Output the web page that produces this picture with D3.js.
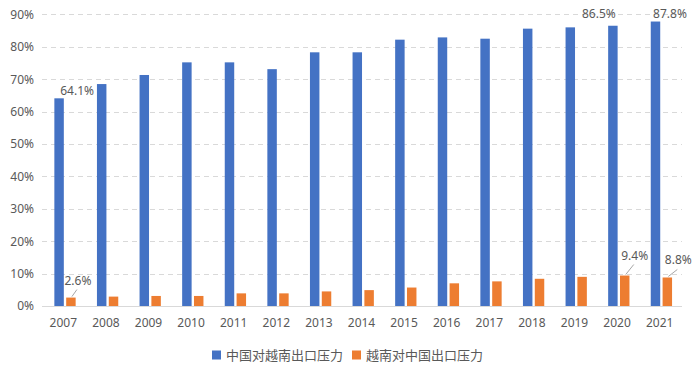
<!DOCTYPE html>
<html lang="zh">
<head>
<meta charset="UTF-8">
<title>出口压力</title>
<script src="https://d3js.org/d3.v7.min.js"></script>
<style>
  body { margin: 0; background: #fff; }
  text { font-family: "Noto Sans", "Noto Sans CJK SC", sans-serif; fill: #595959; }
</style>
</head>
<body>
<script>
const years = ["2007","2008","2009","2010","2011","2012","2013","2014","2015","2016","2017","2018","2019","2020","2021"];
const chinaToVietnam = [64.1, 68.5, 71.3, 75.2, 75.2, 73.1, 78.3, 78.3, 82.2, 82.9, 82.5, 85.6, 86.0, 86.5, 87.8];
const vietnamToChina = [2.6, 2.9, 3.1, 3.1, 3.9, 3.9, 4.5, 4.9, 5.7, 7.0, 7.6, 8.4, 9.0, 9.4, 8.8];
const seriesNames = ["中国对越南出口压力", "越南对中国出口压力"];
const yTicks = [0, 10, 20, 30, 40, 50, 60, 70, 80, 90];
// which points carry a value label
const labelled = [
  { s: 0, year: "2007" }, { s: 0, year: "2020" }, { s: 0, year: "2021" },
  { s: 1, year: "2007" }, { s: 1, year: "2020" }, { s: 1, year: "2021" }
];

const w = 700, h = 372;
const colors = ["#4472C4", "#ED7D31"];
const values = [chinaToVietnam, vietnamToChina];

const svg = d3.select("body").append("svg")
  .attr("width", w).attr("height", h);

const x0 = d3.scaleBand().domain(years).range([42, 681]);
const bw = x0.bandwidth();
const x1 = d3.scaleBand().domain([0, 1]).range([bw * 0.29, bw * 0.79]).paddingInner(0.2);
const y = d3.scaleLinear().domain([0, 90]).range([306, 14.4]);

// grid
svg.append("g").selectAll("line")
  .data(yTicks.filter(d => d > 0))
  .join("line")
  .attr("x1", 42).attr("x2", 682)
  .attr("y1", d => Math.round(y(d)) + 0.5).attr("y2", d => Math.round(y(d)) + 0.5)
  .attr("stroke", "#d9d9d9").attr("stroke-dasharray", "5,4");

// y axis labels
const yAxis = d3.axisLeft(y).tickValues(yTicks).tickFormat(d => d + "%").tickSize(0).tickPadding(8);
svg.append("g")
  .attr("transform", "translate(42,0)")
  .call(yAxis)
  .call(g => g.select(".domain").remove())
  .call(g => g.selectAll("text").attr("font-size", 12).style("fill", "#595959"));

// bars
values.forEach((vals, s) => {
  svg.append("g").selectAll("rect")
    .data(years.map((yr, i) => ({ yr, v: vals[i] })))
    .join("rect")
    .attr("x", d => x0(d.yr) + x1(s))
    .attr("width", x1.bandwidth())
    .attr("y", d => y(d.v))
    .attr("height", d => y(0) - y(d.v))
    .attr("fill", colors[s]);
});

// baseline
svg.append("line")
  .attr("x1", 42).attr("x2", 682)
  .attr("y1", y(0) + 0.5).attr("y2", y(0) + 0.5)
  .attr("stroke", "#d9d9d9");

// x axis
const xAxis = d3.axisBottom(x0).tickSize(0).tickPadding(12);
svg.append("g")
  .attr("transform", "translate(0," + y(0) + ")")
  .call(xAxis)
  .call(g => g.select(".domain").remove())
  .call(g => g.selectAll("text").attr("font-size", 12).style("fill", "#595959"));

// value labels (offsets relative to bar top centre)
const offsets = {
  "0-2007": [18, -3, false], "0-2020": [-14, -8, false], "0-2021": [14.5, -4, false],
  "1-2007": [7, -13, true], "1-2020": [10, -16, true], "1-2021": [11, -13, true]
};
labelled.forEach(l => {
  const i = years.indexOf(l.year);
  const v = values[l.s][i];
  const cx = x0(l.year) + x1(l.s) + x1.bandwidth() / 2;
  const top = y(v);
  const [dx, dy, leader] = offsets[l.s + "-" + l.year];
  if (leader) {
    svg.append("line")
      .attr("x1", cx + 1).attr("y1", top - 1)
      .attr("x2", cx + dx - 1).attr("y2", top + dy + 5)
      .attr("stroke", "#a6a6a6").attr("stroke-width", 1);
  }
  svg.append("text")
    .attr("x", cx + dx).attr("y", top + dy)
    .attr("text-anchor", "middle")
    .attr("font-size", 12)
    .text(v.toFixed(1) + "%");
});

// legend
const legend = svg.append("g").attr("transform", "translate(212,355)");
const legendX = [0, 140];
seriesNames.forEach((name, s) => {
  const g = legend.append("g").attr("transform", "translate(" + legendX[s] + ",0)");
  g.append("rect").attr("x", 0).attr("y", -4.5).attr("width", 9).attr("height", 9).attr("fill", colors[s]);
  g.append("text").attr("x", 14).attr("y", 4.5).attr("font-size", 13).text(name);
});
</script>
</body>
</html>
